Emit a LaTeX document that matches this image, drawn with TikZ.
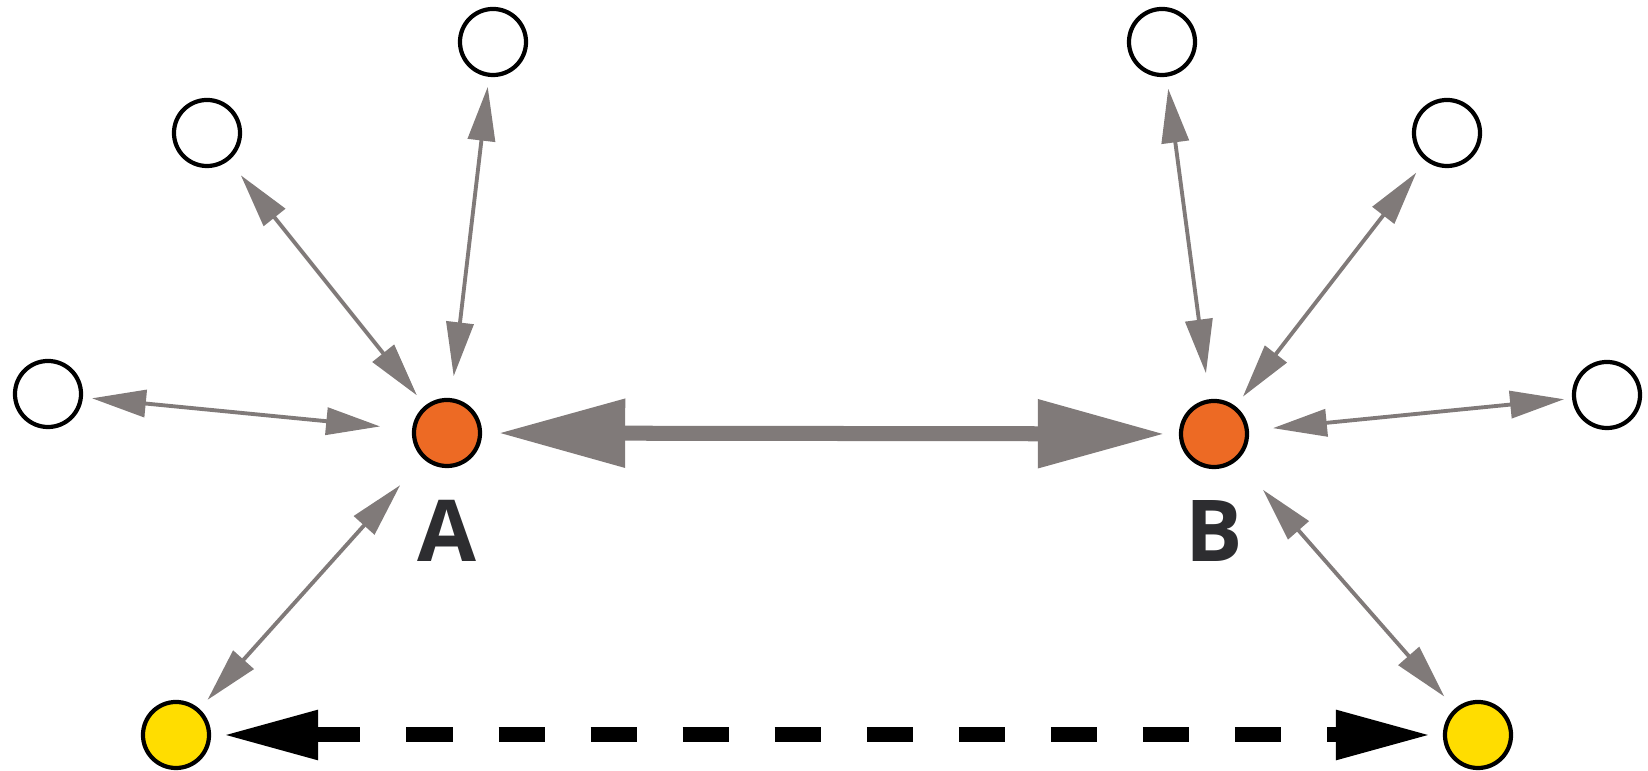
\documentclass[tikz,border=0pt]{standalone}
\usepackage{fontspec}
\setmainfont{Open Sans}
\usetikzlibrary{arrows.meta}

\definecolor{grisfleche}{RGB}{128,122,121}
\definecolor{orangenoeud}{RGB}{237,106,36}
\definecolor{jaunenoeud}{RGB}{255,221,0}
\definecolor{grislettre}{RGB}{45,45,48}

\begin{document}
\begin{tikzpicture}[x=0.01cm, y=-0.01cm]
    \useasboundingbox (0,0) rectangle (1648,771);

    % Styles des noeuds
    \tikzstyle{vide} = [circle, minimum size=0.66cm, inner sep=0pt, draw=black, line width=1.2pt, fill=white]
    \tikzstyle{centre} = [vide, fill=orangenoeud]
    \tikzstyle{jaune} = [vide, fill=jaunenoeud]
    \tikzstyle{lettre} = [font=\fontsize{24.3}{28}\selectfont\bfseries, text=grislettre, anchor=base, inner sep=0pt]
    \tikzstyle{lien} = [grisfleche, line width=1.1pt, {Triangle[length=0.54cm, width=0.27cm]}-{Triangle[length=0.54cm, width=0.27cm]}]
    \tikzstyle{grand} = [grisfleche, line width=0.15cm, {Triangle[length=1.27cm, width=0.65cm]}-{Triangle[length=1.27cm, width=0.65cm]}]
    \tikzstyle{pointille} = [black, line width=0.15cm, dash pattern=on 0.46cm off 0.46cm, {Triangle[length=0.96cm, width=0.46cm]}-{Triangle[length=0.96cm, width=0.46cm]}]

    % Noeuds
    \node (A) [centre] at (447,433) {};
    \node (B) [centre] at (1214,434) {};
    \node (gauche) [vide] at (48,394) {};
    \node (hautgauche) [vide] at (207,133) {};
    \node (hautA) [vide] at (493,42) {};
    \node (hautB) [vide] at (1162,42) {};
    \node (hautdroite) [vide] at (1447,133) {};
    \node (droite) [vide] at (1607,395) {};
    \node (jauneA) [jaune] at (176,735) {};
    \node (jauneB) [jaune] at (1478,735) {};

    % Flèches
    \draw [lien, shorten <=0.09cm, shorten >=0.32cm] (gauche) -- (A);
    \draw [lien, shorten <=0.19cm, shorten >=0.13cm] (hautgauche) -- (A);
    \draw [lien, shorten <=0.10cm, shorten >=0.22cm] (hautA) -- (A);
    \draw [lien, shorten <=0.12cm, shorten >=0.35cm] (jauneA) -- (A);
    \draw [lien, shorten <=0.12cm, shorten >=0.26cm] (hautB) -- (B);
    \draw [lien, shorten <=0.15cm, shorten >=0.12cm] (hautdroite) -- (B);
    \draw [lien, shorten <=0.08cm, shorten >=0.24cm] (droite) -- (B);
    \draw [lien, shorten <=0.16cm, shorten >=0.39cm] (jauneB) -- (B);
    \draw [grand, shorten <=0.16cm, shorten >=0.14cm] (A) -- (B);
    \draw [pointille, shorten <=0.11cm, shorten >=0.11cm] (jauneA) -- (jauneB);

    % Lettres
    \node (lettreA) [lettre] at (447,562) {A};
    \node (lettreB) [lettre] at (1214,562) {B};

\end{tikzpicture}
\end{document}
